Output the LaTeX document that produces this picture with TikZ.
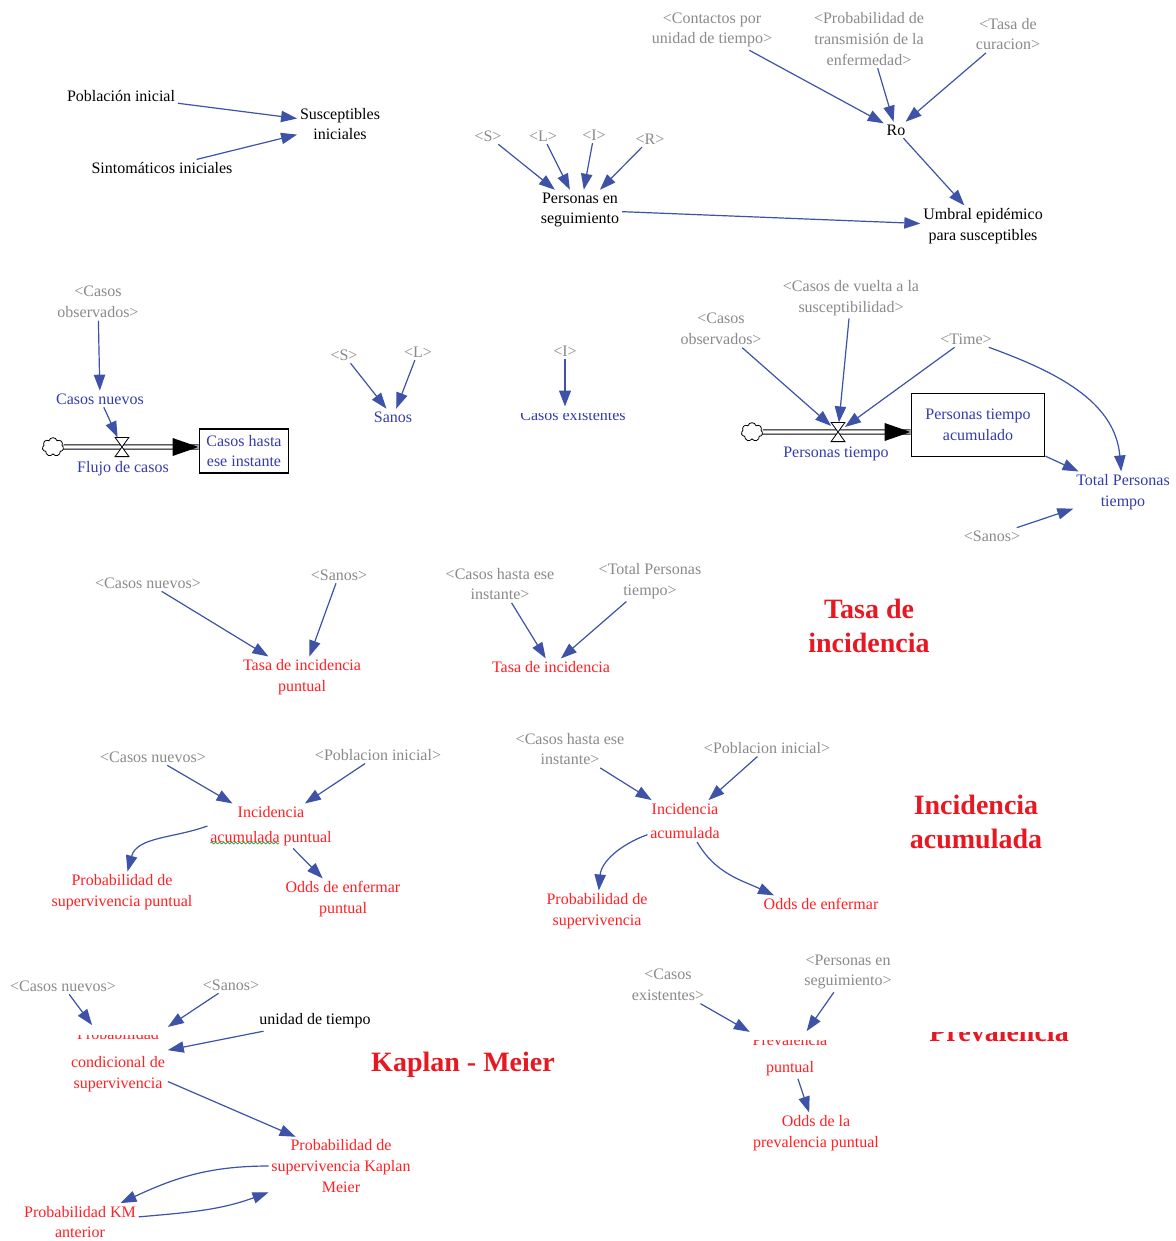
\documentclass[tikz,border=0pt]{standalone}
\usepackage{fontspec}
\setmainfont{Liberation Serif}
\usetikzlibrary{arrows.meta,shapes.symbols,calc,decorations.pathmorphing}

\definecolor{linkblue}{RGB}{62,82,168}
\definecolor{shadowgray}{RGB}{138,138,138}
\definecolor{varred}{RGB}{255,32,36}
\definecolor{varblue}{RGB}{52,60,172}
\definecolor{titlered}{RGB}{232,24,34}
\definecolor{spellgreen}{RGB}{40,150,40}

\begin{document}
\begin{tikzpicture}[x=0.75pt,y=-0.75pt,
  every node/.style={font=\fontsize{12}{15.5}\selectfont, align=center, inner sep=2pt},
  var/.style={text=black},
  shadow/.style={text=shadowgray},
  bvar/.style={text=varblue},
  rvar/.style={text=varred},
  title/.style={text=titlered, font=\fontsize{21}{25}\selectfont\bfseries},
  link/.style={draw=linkblue, line width=0.9pt, -{Triangle[length=12pt,width=8.5pt]}},
  stockbox/.style={draw, line width=1.1pt, text=varblue, inner sep=3pt},
  valvebox/.style={minimum width=10pt, minimum height=14pt, inner sep=0pt},
  source/.style={cloud, cloud puffs=7, aspect=1.2, draw, line width=0.6pt,
                 minimum width=16pt, minimum height=14pt, inner sep=0pt},
  pipe/.style={draw=black, double=white, double distance=2.6pt, line width=0.6pt},
  valveshape/.style={draw, fill=white, line width=0.6pt},
  spell/.style={draw=spellgreen, line width=0.5pt, decorate,
                decoration={snake, amplitude=0.7pt, segment length=3pt}},
]
\fill[white] (0,0) rectangle (1175,1241);
\useasboundingbox (0,0) rectangle (1175,1241);

% ---------- initial susceptibles ----------
\node[var] (pob)  at (121,96)  {Población inicial};
\node[var] (susc) at (340,124) {Susceptibles\\iniciales};
\node[var] (sint) at (162,168) {Sintomáticos iniciales};
\draw[link] (pob) -- (susc);
\draw[link] (sint) -- (susc);

% ---------- people in follow-up and epidemic threshold ----------
\node[shadow] (s1) at (488,136) {<S>};
\node[shadow] (l1) at (543,136) {<L>};
\node[shadow] (i1) at (594,135) {<I>};
\node[shadow] (r1) at (650,139) {<R>};
\node[var] (pseg) at (580,210) {Personas en\\seguimiento};
\draw[link] (s1) -- (pseg);
\draw[link] (l1) -- (pseg);
\draw[link] (i1) -- (pseg);
\draw[link] (r1) -- (pseg);

\node[shadow] (cont)   at (712,30)  {<Contactos por\\unidad de tiempo>};
\node[shadow] (ptrans) at (869,39)  {<Probabilidad de\\transmisión de la\\enfermedad>};
\node[shadow] (tcur)   at (1008,34) {<Tasa de\\curacion>};
\node[var] (ro)  at (896,130) {Ro};
\node[var] (umb) at (983,226) {Umbral epidémico\\para susceptibles};
\draw[link] (cont) -- (ro);
\draw[link] (ptrans) -- (ro);
\draw[link] (tcur) -- (ro);
\draw[link] (ro) -- (umb);
\draw[link] (pseg) -- (umb);

% ---------- new cases flow ----------
\node[shadow] (cobs1) at (98,302) {<Casos\\observados>};
\node[bvar] (cnuevos) at (100,399) {Casos nuevos};
\node[source] (cloud1) at (53,447) {};
\node[valvebox] (valve1) at (122,447) {};
\node[bvar] (flujo) at (123,469) {Flujo de casos};
\node[stockbox, minimum width=67pt, minimum height=33pt] (stock1) at (244,451) {Casos hasta\\ese instante};
\draw[pipe] (cloud1.east) -- (cloud1 -| stock1.west);
\fill (cloud1 -| stock1.west) -- ++(-26,-9) -- ++(0,18) -- cycle;
\draw[valveshape] (valve1.north west) -- (valve1.north east) -- (valve1.south west) -- (valve1.south east) -- cycle;
\draw[link] (cobs1) -- (cnuevos);
\draw[link] (cnuevos) -- (valve1);

% ---------- healthy ----------
\node[shadow] (s2) at (344,355) {<S>};
\node[shadow] (l2) at (418,352) {<L>};
\node[bvar] (sanos) at (393,417) {Sanos};
\draw[link] (s2) -- (sanos);
\draw[link] (l2) -- (sanos);

% ---------- existing cases ----------
\node[shadow] (i2) at (565,351) {<I>};
\begin{scope}
  \clip (480,413) rectangle (680,440);
  \node[bvar] (cexist) at (573,415) {Casos existentes};
\end{scope}
\draw[link, line width=2pt] (i2) -- (i2 |- cexist.north);

% ---------- person-time flow ----------
\node[shadow] (cvuelta) at (851,298) {<Casos de vuelta a la\\susceptibilidad>};
\node[shadow] (cobs2)   at (721,329) {<Casos\\observados>};
\node[shadow] (time)    at (966,339) {<Time>};
\node[source] (cloud2) at (752,432) {};
\node[valvebox] (valve2) at (838,432) {};
\node[bvar] (ptiempo) at (836,454) {Personas tiempo};
\node[stockbox, minimum width=100pt, minimum height=47pt] (stock2) at (978,425) {Personas tiempo\\acumulado};
\node[bvar] (tpt) at (1123,492) {Total Personas\\tiempo};
\node[shadow] (sanos2) at (992,536) {<Sanos>};
\draw[pipe] (cloud2.east) -- (cloud2 -| stock2.west);
\fill (cloud2 -| stock2.west) -- ++(-26,-9) -- ++(0,18) -- cycle;
\draw[valveshape] (valve2.north west) -- (valve2.north east) -- (valve2.south west) -- (valve2.south east) -- cycle;
\draw[link] (cobs2) -- (valve2);
\draw[link] (cvuelta) -- (valve2);
\draw[link] (time) -- (valve2);
\draw[link] (time) to[out=-20,in=95] (tpt);
\draw[link] (stock2) -- (tpt);
\draw[link] (sanos2) -- (tpt);

% ---------- incidence rate ----------
\node[shadow] (cn3)    at (148,583) {<Casos nuevos>};
\node[shadow] (sanos3) at (339,575) {<Sanos>};
\node[rvar] (tip) at (302,677) {Tasa de incidencia\\puntual};
\node[shadow] (chi3) at (500,584) {<Casos hasta ese\\instante>};
\node[shadow] (tpt3) at (650,581) {<Total Personas\\tiempo>};
\node[rvar] (ti) at (551,667) {Tasa de incidencia};
\node[title] (t1) at (869,626) {Tasa de\\incidencia};
\draw[link] (cn3) -- (tip);
\draw[link] (sanos3) -- (tip);
\draw[link] (chi3) -- (ti);
\draw[link] (tpt3) -- (ti);

% ---------- cumulative incidence ----------
\node[shadow] (cn4) at (153,757) {<Casos nuevos>};
\node[shadow] (pi4) at (378,755) {<Poblacion inicial>};
\node[rvar] (iap) at (271,826) {Incidencia\\[3pt]acumulada puntual};
\node[rvar] (psp) at (122,892) {Probabilidad de\\supervivencia puntual};
\node[rvar] (oep) at (343,899) {Odds de enfermar\\puntual};
\draw[spell] ($(iap.west)+(3,17)$) -- ++(69,0);
\draw[link] (cn4) -- (iap);
\draw[link] (pi4) -- (iap);
\draw[link] (iap.west) to[out=200,in=75] (psp);
\draw[link] (iap) -- (oep);

\node[shadow] (chi4) at (570,749) {<Casos hasta ese\\instante>};
\node[shadow] (pi5)  at (767,748) {<Poblacion inicial>};
\node[rvar] (ia) at (685,821) {Incidencia\\[3pt]acumulada};
\node[rvar] (ps) at (597,911) {Probabilidad de\\supervivencia};
\node[rvar] (oe) at (821,904) {Odds de enfermar};
\node[title] (t2) at (976,822) {Incidencia\\acumulada};
\draw[link] (chi4) -- (ia);
\draw[link] (pi5) -- (ia);
\draw[link] (ia) to[out=200,in=85] (ps);
\draw[link] (ia) to[out=-60,in=155] ([xshift=10pt]oe.north west);

% ---------- Kaplan - Meier ----------
\node[shadow] (cn5)    at (63,986)  {<Casos nuevos>};
\node[shadow] (sanos5) at (231,985) {<Sanos>};
\begin{scope}
  \clip (0,1035) rectangle (260,1110);
  \node[rvar] (pcs) at (118,1060) {Probabilidad\\[6pt]condicional de\\supervivencia};
\end{scope}
\node[var] (udt) at (315,1021) {unidad de tiempo};
\node[rvar] (pskm) at (341,1166) {Probabilidad de\\supervivencia Kaplan\\Meier};
\node[rvar] (pkma) at (80,1222) {Probabilidad KM\\anterior};
\node[title] (t3) at (463,1065) {Kaplan - Meier};
\draw[link] (cn5) -- (pcs);
\draw[link] (sanos5) -- (pcs);
\draw[link] (udt) -- (pcs);
\draw[link] (pcs) -- ([xshift=-34pt]pskm.north);
\draw[link] (pskm) to[out=180,in=25] (pkma);
\draw[link] (pkma) to[out=5,in=200] (pskm);

% ---------- prevalence ----------
\node[shadow] (cex6)  at (668,985) {<Casos\\existentes>};
\node[shadow] (pseg6) at (848,972) {<Personas en\\seguimiento>};
\begin{scope}
  \clip (700,1040) rectangle (880,1090);
  \node[rvar] (prevp) at (790,1055) {Prevalencia\\[5pt]puntual};
\end{scope}
\node[rvar] (odp) at (816,1133) {Odds de la\\prevalencia puntual};
\begin{scope}
  \clip (900,1032) rectangle (1100,1060);
  \node[title] (t4) at (999,1032) {Prevalencia};
\end{scope}
\draw[link] (cex6) -- (prevp);
\draw[link] (pseg6) -- (prevp);
\draw[link] (prevp) -- (odp);
\end{tikzpicture}
\end{document}
